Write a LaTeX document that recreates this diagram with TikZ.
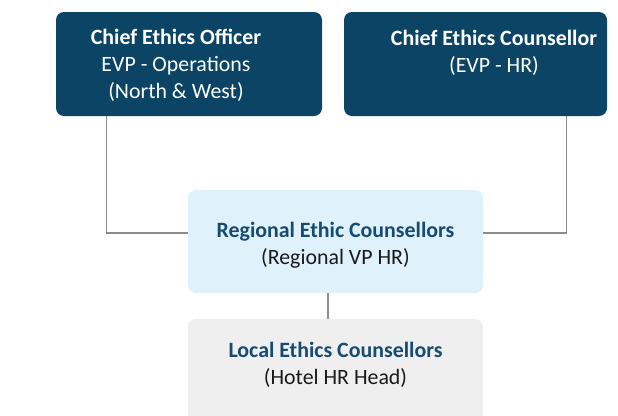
\documentclass[tikz,border=0pt]{standalone}
\usepackage{fontspec}
\setmainfont{Carlito}
\usetikzlibrary{calc}
\definecolor{navy}{HTML}{0C4466}
\definecolor{lightblue}{HTML}{DFF1FB}
\definecolor{lightgray}{HTML}{EFEFEF}
\definecolor{titleblue}{HTML}{174B70}
\definecolor{linegray}{HTML}{8C8C8C}
\definecolor{bodytext}{HTML}{1A1A1A}
\begin{document}
\begin{tikzpicture}[x=0.75pt,y=-0.75pt,
  box/.style={rectangle,rounded corners=6pt,draw=none,inner sep=0pt},
  txt/.style={align=center,inner sep=0pt,font=\fontsize{16.4}{20.3}\selectfont},
  conn/.style={draw=linegray,line width=0.8pt}]
\useasboundingbox (0,0) rectangle (618,415);
\begin{scope}
\clip (0,0) rectangle (618,415);
\node[box,fill=navy,minimum width=266*0.75pt,minimum height=104*0.75pt] (ceo) at (189,64) {};
\node[box,fill=navy,minimum width=263*0.75pt,minimum height=104*0.75pt] (cec) at (475.5,64) {};
\node[box,fill=lightblue,minimum width=295*0.75pt,minimum height=103*0.75pt] (reg) at (335.5,241.5) {};
\node[box,fill=lightgray,minimum width=295*0.75pt,minimum height=110*0.75pt] (loc) at (335.5,374) {};
\end{scope}
\node[txt,text=white] (ceot) at (176,65.5) {\textbf{Chief Ethics Officer}\\EVP - Operations\\(North \& West)};
\node[txt,text=white] (cect) at (494,53) {\textbf{Chief Ethics Counsellor}\\(EVP - HR)};
\node[txt,text=bodytext] (regt) at (335.5,245) {\textcolor{titleblue}{\textbf{Regional Ethic Counsellors}}\\(Regional VP HR)};
\node[txt,text=bodytext] (loct) at (335.5,365) {\textcolor{titleblue}{\textbf{Local Ethics Counsellors}}\\(Hotel HR Head)};
\draw[conn] ($(ceo.south west)+(51,0)$) |- ($(reg.west)+(0,-8.5)$);
\draw[conn] ($(cec.south east)+(-41,0)$) |- ($(reg.east)+(0,-8.5)$);
\draw[conn] ($(reg.south)+(-7.5,0)$) -- ($(loc.north)+(-7.5,0)$);
\end{tikzpicture}
\end{document}
